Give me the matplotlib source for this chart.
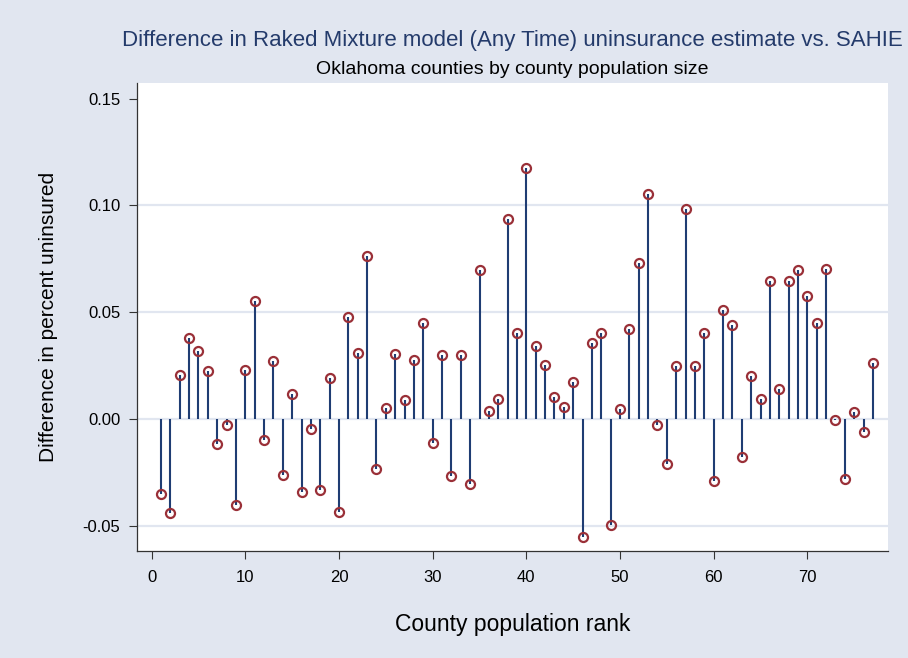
import matplotlib
matplotlib.use("Agg")
import matplotlib.pyplot as plt
import numpy as np

# county rank (1 = largest population) and difference in percent uninsured
rank = list(range(1, 78))
diff = [
    -0.0351, -0.0438, 0.0206, 0.0382, 0.0320, 0.0225, -0.0117, -0.0027, -0.0401, 0.0232,
    0.0552, -0.0095, 0.0271, -0.0260, 0.0118, -0.0341, -0.0044, -0.0329, 0.0192, -0.0435,
    0.0480, 0.0312, 0.0764, -0.0232, 0.0055, 0.0306, 0.0089, 0.0278, 0.0449, -0.0112,
    0.0301, -0.0267, 0.0301, -0.0301, 0.0698, 0.0041, 0.0097, 0.0935, 0.0405, 0.1174,
    0.0345, 0.0254, 0.0106, 0.0056, 0.0175, -0.0549, 0.0357, 0.0405, -0.0493, 0.0047,
    0.0424, 0.0730, 0.1056, -0.0027, -0.0209, 0.0249, 0.0984, 0.0249, 0.0405, -0.0288,
    0.0510, 0.0443, -0.0175, 0.0203, 0.0097, 0.0649, 0.0140, 0.0649, 0.0698, 0.0577,
    0.0449, 0.0702, -0.0005, -0.0281, 0.0034, -0.0058, 0.0263,
]

xticks = [0, 10, 20, 30, 40, 50, 60, 70]
yticks = [-0.05, 0.00, 0.05, 0.10, 0.15]
ytick_labels = ["-0.05", "0.00", "0.05", "0.10", "0.15"]

title = "Difference in Raked Mixture model (Any Time) uninsurance estimate vs. SAHIE"
subtitle = "Oklahoma counties by county population size"

plt.rcParams['font.family'] = ['Liberation Sans', 'DejaVu Sans']
plt.rcParams['axes.unicode_minus'] = False

bg = "#E1E6F0"
fig = plt.figure(figsize=(9.08, 6.58), dpi=100, facecolor=bg)
ax = fig.add_axes([0.1509, 0.1626, 0.827, 0.7113])
ax.set_facecolor("white")

# grid lines (none at the top label)
for v in yticks[:-1]:
    ax.axhline(v, color="#E1E6F0", lw=1.6, zorder=0)

ax.vlines(rank, 0, diff, color="#1F3D73", lw=1.5, zorder=2)
ax.plot(rank, diff, "o", ms=6.5, mfc="none", mec="#9A3038", mew=1.6, zorder=3)

ax.set_xlim(-1.56, 78.6)
ax.set_ylim(-0.0616, 0.1573)
ax.set_xticks(xticks)
ax.set_yticks(yticks)
ax.set_yticklabels(ytick_labels)
ax.tick_params(axis="both", direction="out", length=6, width=0.8, color="#333333",
               labelsize=12, pad=6)
ax.tick_params(axis="x", pad=8)

for s in ["top", "right"]:
    ax.spines[s].set_visible(False)
for s in ["left", "bottom"]:
    ax.spines[s].set_color("#333333")
    ax.spines[s].set_linewidth(0.9)

ax.set_xlabel("County population rank", fontsize=16.5, labelpad=20)
ax.set_ylabel("Difference in percent uninsured", fontsize=15, labelpad=18)

fig.text(0.564, 0.938, title, ha="center", va="center", fontsize=16, color="#243B6B")
fig.text(0.564, 0.895, subtitle, ha="center", va="center", fontsize=14, color="black")

fig.savefig("out.png", dpi=100, facecolor=bg)
